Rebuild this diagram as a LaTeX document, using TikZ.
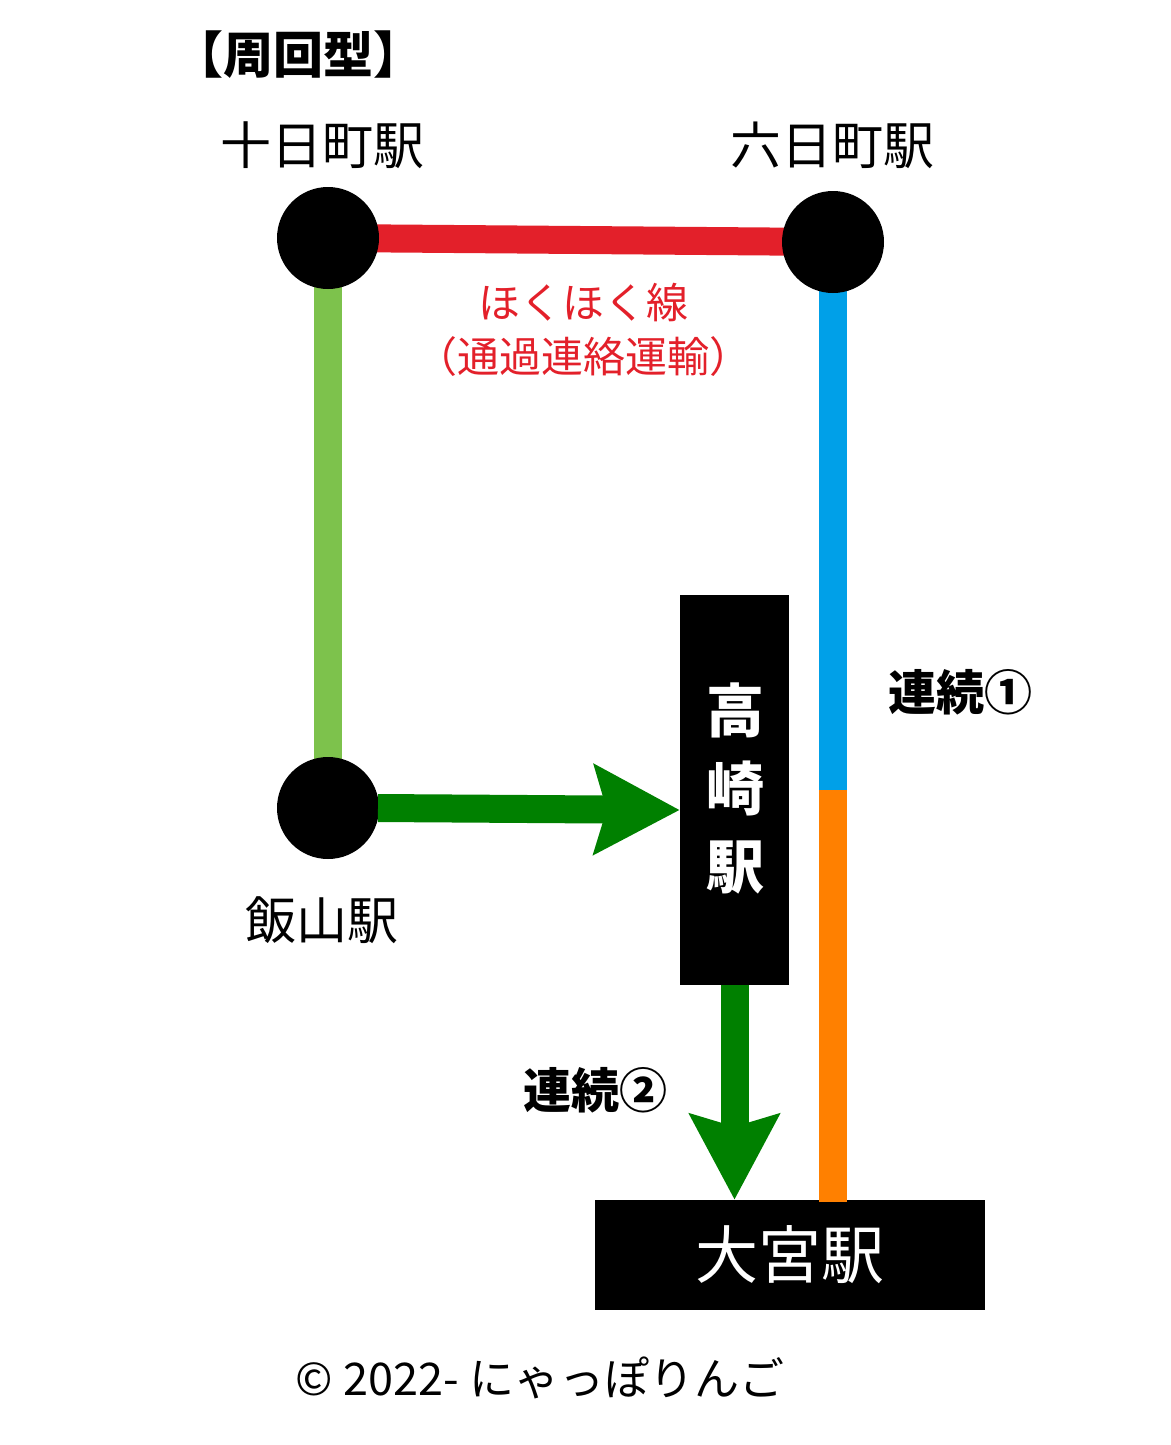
\documentclass[tikz,border=0pt]{standalone}
\usepackage{fontspec}
\setmainfont{Noto Sans CJK JP}
\usetikzlibrary{arrows.meta}
\definecolor{rred}{HTML}{E3202A}
\definecolor{lgreen}{HTML}{7DC24C}
\definecolor{lblue}{HTML}{00A0E8}
\definecolor{lorange}{HTML}{FF8000}
\definecolor{dgreen}{HTML}{008000}
\tikzset{
  stn/.style={circle,fill=black,minimum size=102pt,inner sep=0},
  lbl/.style={font=\fontsize{51}{55}\selectfont},
  track/.style={line width=28pt},
  bigarrow/.style={line width=28pt,dgreen,-{Stealth[length=85pt,width=88pt,inset=12pt]}},
  blackbox/.style={fill=black,text=white,inner sep=0}
}
\begin{document}
\begin{tikzpicture}[x=1pt,y=-1pt]
\useasboundingbox (0,0) rectangle (1170,1445);
\coordinate (A) at (328,238);
\coordinate (B) at (833,242);
\coordinate (C) at (328,808);
\coordinate (M) at (833,790);
\coordinate (E) at (833,1202);
\node[blackbox,minimum width=109pt,minimum height=390pt] (T) at (734.5,790) {};
\node[blackbox,minimum width=390pt,minimum height=110pt,font=\fontsize{63}{63}\selectfont] (O) at (790,1255) {大宮駅};
\node[text=white,font=\bfseries\fontsize{58}{78}\selectfont,align=center] (TT) at (735,788) {高\\崎\\駅};
\draw[track,rred] (A) -- (B);
\draw[track,lgreen] (A) -- (C);
\draw[track,lblue] (B) -- (M);
\draw[track,lorange] (M) -- (E);
\node[stn] (nA) at (A) {};
\node[stn] (nB) at (B) {};
\node[stn] (nC) at (C) {};
\draw[bigarrow] (nC.center) ++(50,0) coordinate (c1) -- (T.west |- 0,810);
\draw[bigarrow] (T.south) -- (O.north -| T.south);
\node[font=\bfseries\fontsize{50}{52}\selectfont] (tt) at (298,55) {【周回型】};
\node[lbl] (l1) at (322,145) {十日町駅};
\node[lbl] (l2) at (832,145) {六日町駅};
\node[lbl] (l3) at (322,920) {飯山駅};
\node[text=rred,font=\fontsize{42}{54}\selectfont,align=center] (h) at (583,330) {ほくほく線\\（通過連絡運輸）};
\node[font=\bfseries\fontsize{48}{50}\selectfont] (r1) at (960,692) {連続①};
\node[font=\bfseries\fontsize{48}{50}\selectfont] (r2) at (595,1090) {連続②};
\node[font=\fontsize{45}{48}\selectfont] (cp) at (540,1378) {© 2022- にゃっぽりんご};
\end{tikzpicture}
\end{document}
